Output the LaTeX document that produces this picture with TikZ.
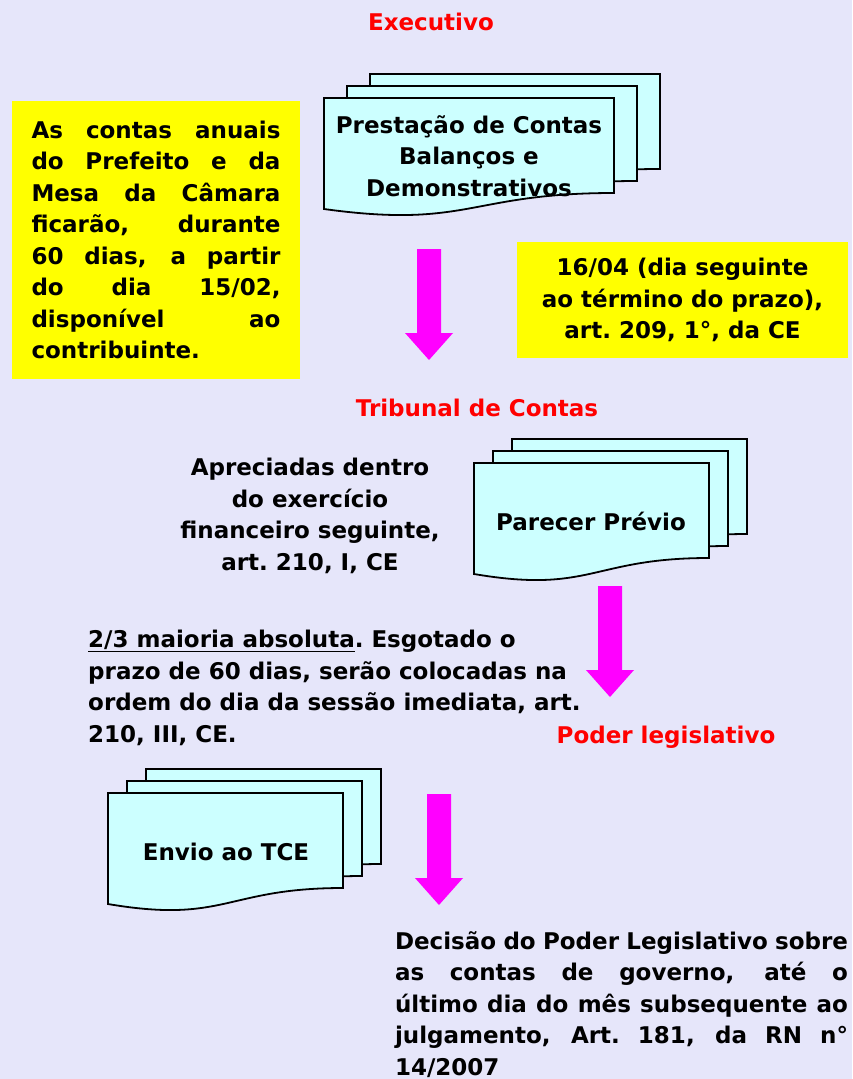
\documentclass[tikz,border=0pt]{standalone}
\usepackage{fontspec}
\setmainfont{DejaVu Sans}
\definecolor{bgcol}{RGB}{230,230,250}
\definecolor{sheetcol}{RGB}{204,255,255}
\definecolor{notecol}{RGB}{255,255,0}
\definecolor{arrowcol}{RGB}{255,0,255}
\definecolor{titlecol}{RGB}{255,0,0}
\tikzstyle{txt} = [font=\fontsize{23}{31.5}\selectfont\bfseries, inner sep=0pt]
\tikzstyle{title} = [txt, text=titlecol]
\tikzstyle{note} = [txt, rectangle, fill=notecol]
\tikzstyle{sheet} = [draw=black, line width=1.8pt, fill=sheetcol]
\tikzstyle{bigarrow} = [fill=arrowcol]
\tikzset{
  pics/docstack/.style 2 args={code={
    \foreach \k in {2,1,0}{
      \filldraw[sheet,shift={(\k*#2,-\k*12)}] (0,0) -- (#1,0) -- (#1,95)
        .. controls ({#1/2},95) and ({#1/2},131) .. (0,111) -- cycle;
    }
  }},
  pics/downarrow/.style={code={
    \fill[bigarrow] (-12,0) -- (12,0) -- (12,84) -- (24,84) -- (0,111)
      -- (-24,84) -- (-12,84) -- cycle;
  }}
}
\newcommand{\jline}[2]{\makebox[#1][s]{\spaceskip=0pt\xspaceskip=0pt #2}}

\begin{document}
\begin{tikzpicture}[x=1pt,y=-1pt]
    \path[use as bounding box, fill=bgcol] (0,0) rectangle (852,1079);

    \pic (prestdoc) at (324,98) {docstack={290}{23}};
    \pic (parecerdoc) at (474,463) {docstack={235}{19}};
    \pic (enviodoc) at (108,793) {docstack={235}{19}};

    \pic (arrow1) at (429,249) {downarrow};
    \pic (arrow2) at (610,586) {downarrow};
    \pic (arrow3) at (439,794) {downarrow};

    \node at (431,22) [title] (exec) {Executivo};
    \node at (469,156) [txt, align=center] (prest) {Prestação de Contas\\Balanços e\\Demonstrativos};

    \node at (156,240) [note, minimum width=288pt, minimum height=278pt, text width=249pt, align=left] (prazo)
        {\noindent\jline{249pt}{As contas anuais}\\\jline{249pt}{do Prefeito e da}\\\jline{249pt}{Mesa da Câmara}\\\jline{249pt}{ficarão, durante}\\\jline{249pt}{60 dias, a partir}\\\jline{249pt}{do dia 15/02,}\\\jline{249pt}{disponível ao}\\contribuinte.};
    \node at (682.5,300) [note, minimum width=331pt, minimum height=116pt, align=center] (prazoce)
        {16/04 (dia seguinte\\ao término do prazo),\\art.\ 209, 1°, da CE};

    \node at (477,408) [title] (tribunal) {Tribunal de Contas};
    \node at (310,516) [txt, align=center] (apreciadas) {Apreciadas dentro\\do exercício\\financeiro seguinte,\\art.\ 210, I, CE};
    \node at (591,521) [txt] (parecer) {Parecer Prévio};

    \node at (88,688) [txt, anchor=west, align=left] (maioria)
        {\underline{2/3 maioria absoluta}.\ Esgotado o\\prazo de 60 dias, serão colocadas na\\ordem do dia da sessão imediata, art.\\210, III, CE.};
    \node at (666,737) [title] (poder) {Poder legislativo};
    \node at (226,852) [txt] (envio) {Envio ao TCE};

    \node at (621.5,1004.5) [txt, text width=453pt, align=left] (decisao)
        {\noindent\jline{453pt}{Decisão do Poder Legislativo sobre}\\\jline{453pt}{as contas de governo, até o}\\\jline{453pt}{último dia do mês subsequente ao}\\\jline{453pt}{julgamento, Art.\ 181, da RN n°}\\14/2007};
\end{tikzpicture}
\end{document}
